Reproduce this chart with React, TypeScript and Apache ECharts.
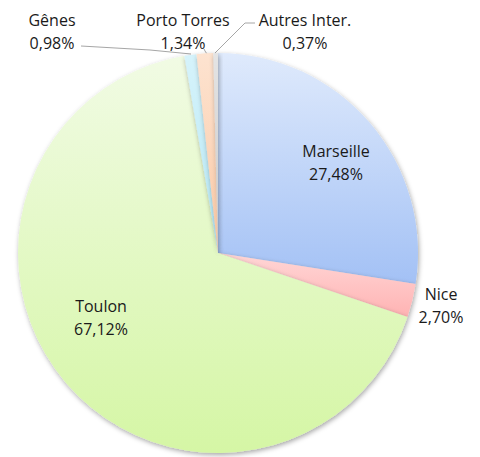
import React, { useEffect, useRef } from "react";
import * as echarts from "echarts";

const categories = ["Marseille", "Nice", "Toulon", "Gênes", "Porto Torres", "Autres Inter."];
const values = [27.48, 2.7, 67.12, 0.98, 1.34, 0.37];
const topColors = ["#dfeafc", "#ffd6d6", "#f1fbe4", "#d6f3fb", "#fde3d0", "#e4e4e4"];
const bottomColors = ["#a3c1f5", "#ffb3b3", "#d5f6a5", "#b5e8f5", "#fbc9a5", "#c8c8c8"];
const labelPos: [number, number][] = [
  [336, 162],
  [441, 305],
  [101, 317],
  [52, 31],
  [183, 31],
  [305, 31],
];
const linePoints: ([number, number][] | null)[] = [
  null,
  null,
  null,
  [[81, 46], [150, 50], [191, 54]],
  [[204, 49], [205, 51], [207, 54]],
  [[255, 23], [245, 23], [215, 53]],
];

export default function App() {
  const ref = useRef<HTMLDivElement>(null);
  useEffect(() => {
    if (!ref.current) return;
    const chart = echarts.init(ref.current, undefined, { renderer: "svg" });
    chart.setOption({
      animation: false,
      series: [
        {
          type: "pie",
          center: [218, 253],
          radius: 200,
          startAngle: 90,
          clockwise: true,
          avoidLabelOverlap: false,
          label: {
            show: true,
            color: "#1a1a1a",
            fontFamily: "Open Sans",
            fontSize: 16,
            lineHeight: 23,
            align: "center",
            formatter: (p: any) => p.name + "\n" + p.value.toFixed(2).replace(".", ",") + "%",
          },
          labelLine: { show: true, lineStyle: { color: "#a6a6a6", width: 1 } },
          labelLayout: (p: any) => {
            const i = p.dataIndex;
            const res: any = {
              x: labelPos[i][0],
              y: labelPos[i][1],
              align: "center",
              verticalAlign: "middle",
            };
            if (linePoints[i]) res.labelLinePoints = linePoints[i];
            return res;
          },
          itemStyle: {
            shadowBlur: 5,
            shadowColor: "rgba(0,0,0,0.35)",
            shadowOffsetX: 1,
            shadowOffsetY: 2,
          },
          data: categories.map((c, i) => ({
            name: c,
            value: values[i],
            labelLine: { show: !!linePoints[i] },
            itemStyle: {
              color: new echarts.graphic.LinearGradient(0, 0, 0, 1, [
                { offset: 0, color: topColors[i] },
                { offset: 1, color: bottomColors[i] },
              ]),
            },
          })),
        },
      ],
    });
    return () => chart.dispose();
  }, []);
  return (
    <div
      ref={ref}
      style={{ position: "absolute", left: 0, top: 0, width: 480, height: 457, background: "#fff" }}
    />
  );
}
